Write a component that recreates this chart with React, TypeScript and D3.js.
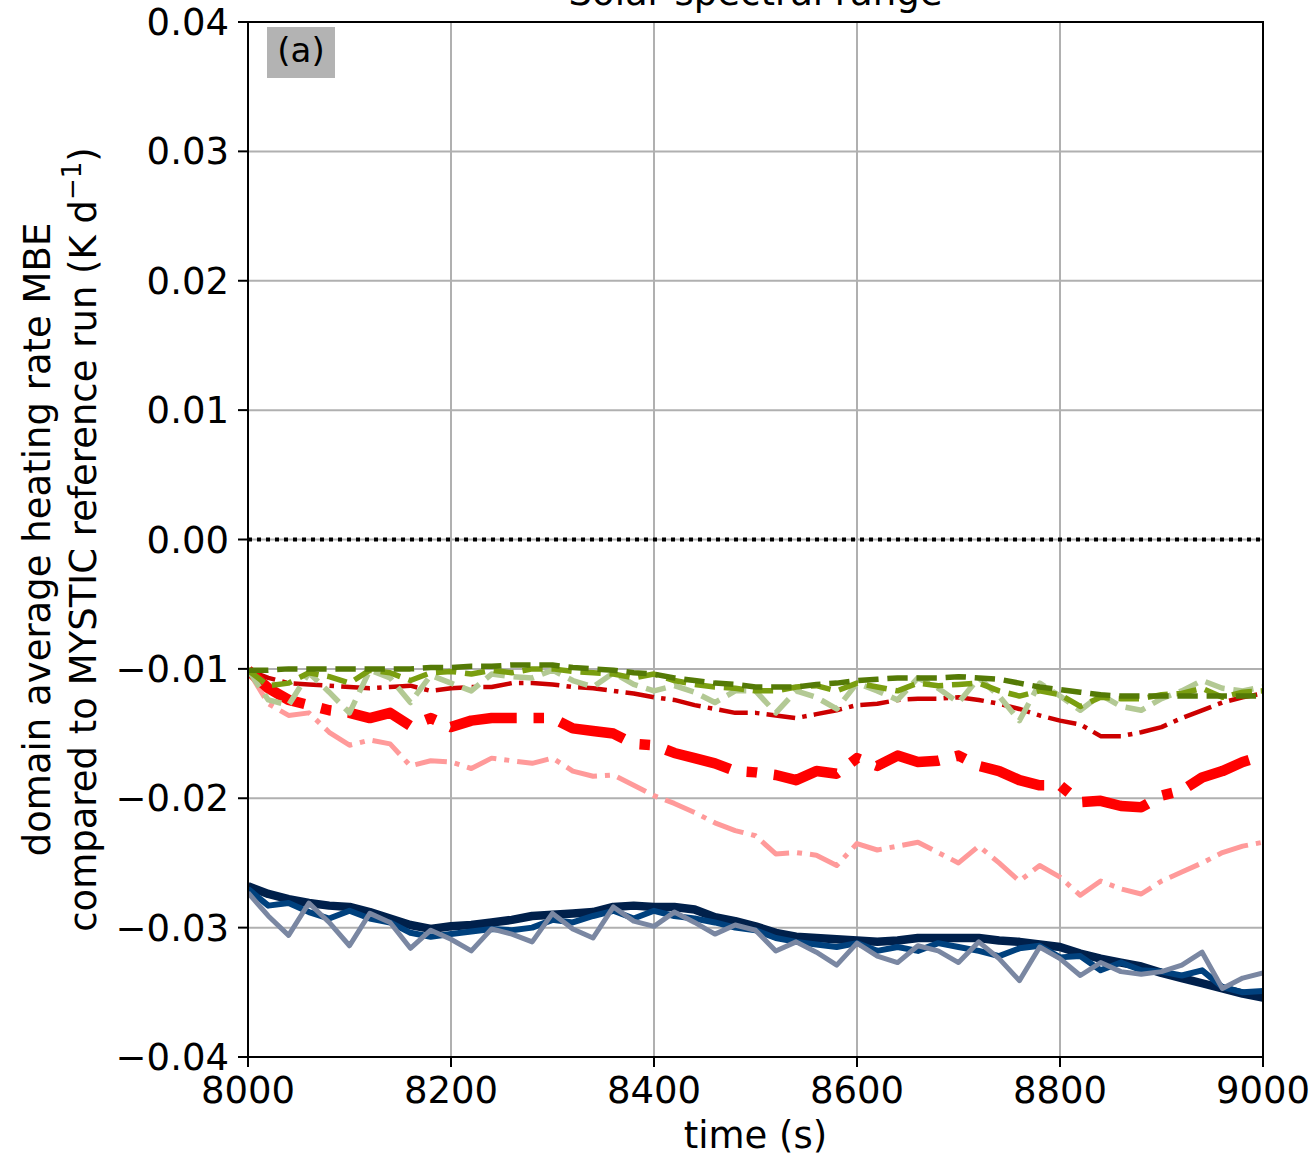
import React from 'react';
import * as d3 from 'd3';

// time axis, one value every 20 s
const times = d3.range(8000, 9001, 20);

const darkGreen = [-0.0101, -0.0101, -0.0100, -0.0100, -0.0100, -0.0100, -0.0100, -0.0100, -0.0100, -0.0099, -0.0099, -0.0098, -0.0098, -0.0097, -0.0097, -0.0097, -0.0099, -0.0100, -0.0101, -0.0103, -0.0104, -0.0107, -0.0109, -0.0111, -0.0112, -0.0114, -0.0114, -0.0114, -0.0112, -0.0111, -0.0109, -0.0108, -0.0107, -0.0107, -0.0107, -0.0106, -0.0107, -0.0108, -0.0111, -0.0114, -0.0116, -0.0118, -0.0120, -0.0121, -0.0121, -0.0121, -0.0121, -0.0121, -0.0121, -0.0121, -0.0121];
const oliveGreen = [-0.0101, -0.0113, -0.0111, -0.0103, -0.0106, -0.0111, -0.0101, -0.0103, -0.0109, -0.0103, -0.0102, -0.0104, -0.0101, -0.0103, -0.0100, -0.0100, -0.0102, -0.0103, -0.0104, -0.0107, -0.0104, -0.0109, -0.0112, -0.0114, -0.0115, -0.0117, -0.0117, -0.0114, -0.0113, -0.0117, -0.0111, -0.0114, -0.0117, -0.0111, -0.0113, -0.0112, -0.0111, -0.0117, -0.0121, -0.0117, -0.0120, -0.0129, -0.0122, -0.0123, -0.0123, -0.0120, -0.0119, -0.0115, -0.0122, -0.0118, -0.0117];
const lightGreen = [-0.0101, -0.0124, -0.0128, -0.0103, -0.0118, -0.0134, -0.0101, -0.0107, -0.0126, -0.0105, -0.0111, -0.0117, -0.0104, -0.0106, -0.0107, -0.0101, -0.0109, -0.0114, -0.0103, -0.0112, -0.0117, -0.0113, -0.0118, -0.0126, -0.0117, -0.0117, -0.0134, -0.0117, -0.0122, -0.0131, -0.0111, -0.0117, -0.0124, -0.0107, -0.0115, -0.0126, -0.0107, -0.0121, -0.0140, -0.0111, -0.0121, -0.0132, -0.0120, -0.0129, -0.0132, -0.0123, -0.0117, -0.0109, -0.0115, -0.0117, -0.0114];
const darkRed = [-0.0101, -0.0107, -0.0111, -0.0112, -0.0113, -0.0114, -0.0115, -0.0114, -0.0113, -0.0117, -0.0115, -0.0114, -0.0114, -0.0111, -0.0111, -0.0112, -0.0114, -0.0115, -0.0117, -0.0119, -0.0122, -0.0124, -0.0128, -0.0131, -0.0134, -0.0134, -0.0136, -0.0138, -0.0135, -0.0132, -0.0128, -0.0127, -0.0124, -0.0123, -0.0123, -0.0122, -0.0124, -0.0127, -0.0131, -0.0136, -0.0140, -0.0143, -0.0152, -0.0152, -0.0149, -0.0145, -0.0138, -0.0132, -0.0126, -0.0122, -0.0119];
const brightRed = [-0.0101, -0.0115, -0.0124, -0.0128, -0.0132, -0.0134, -0.0138, -0.0134, -0.0144, -0.0138, -0.0145, -0.0140, -0.0138, -0.0138, -0.0138, -0.0138, -0.0146, -0.0148, -0.0150, -0.0158, -0.0159, -0.0165, -0.0169, -0.0173, -0.0179, -0.0180, -0.0182, -0.0186, -0.0179, -0.0181, -0.0169, -0.0175, -0.0167, -0.0172, -0.0171, -0.0167, -0.0175, -0.0179, -0.0186, -0.0190, -0.0190, -0.0203, -0.0202, -0.0206, -0.0207, -0.0198, -0.0194, -0.0184, -0.0179, -0.0172, -0.0167];
const pinkRed = [-0.0101, -0.0127, -0.0136, -0.0134, -0.0149, -0.0159, -0.0155, -0.0158, -0.0175, -0.0171, -0.0172, -0.0177, -0.0169, -0.0171, -0.0173, -0.0169, -0.0179, -0.0183, -0.0182, -0.0190, -0.0198, -0.0204, -0.0211, -0.0219, -0.0225, -0.0229, -0.0243, -0.0242, -0.0244, -0.0252, -0.0235, -0.0240, -0.0237, -0.0234, -0.0242, -0.0250, -0.0237, -0.0250, -0.0264, -0.0252, -0.0261, -0.0275, -0.0264, -0.0270, -0.0274, -0.0264, -0.0257, -0.0250, -0.0242, -0.0237, -0.0234];
const navyBlue = [-0.0268, -0.0274, -0.0278, -0.0281, -0.0283, -0.0284, -0.0288, -0.0293, -0.0298, -0.0301, -0.0299, -0.0298, -0.0296, -0.0294, -0.0291, -0.0290, -0.0289, -0.0288, -0.0284, -0.0283, -0.0284, -0.0284, -0.0286, -0.0292, -0.0295, -0.0299, -0.0304, -0.0307, -0.0308, -0.0309, -0.0310, -0.0311, -0.0310, -0.0308, -0.0308, -0.0308, -0.0308, -0.0310, -0.0311, -0.0313, -0.0315, -0.0320, -0.0324, -0.0327, -0.0330, -0.0335, -0.0339, -0.0343, -0.0347, -0.0351, -0.0354];
const midBlue = [-0.0270, -0.0283, -0.0281, -0.0288, -0.0293, -0.0287, -0.0293, -0.0296, -0.0304, -0.0307, -0.0305, -0.0303, -0.0301, -0.0302, -0.0300, -0.0294, -0.0296, -0.0291, -0.0287, -0.0293, -0.0287, -0.0291, -0.0293, -0.0296, -0.0300, -0.0302, -0.0308, -0.0311, -0.0313, -0.0315, -0.0312, -0.0318, -0.0315, -0.0318, -0.0312, -0.0315, -0.0318, -0.0322, -0.0316, -0.0314, -0.0323, -0.0322, -0.0333, -0.0327, -0.0333, -0.0334, -0.0337, -0.0333, -0.0346, -0.0350, -0.0349];
const grayBlue = [-0.0273, -0.0291, -0.0306, -0.0281, -0.0296, -0.0314, -0.0289, -0.0296, -0.0316, -0.0302, -0.0309, -0.0318, -0.0301, -0.0305, -0.0311, -0.0289, -0.0301, -0.0308, -0.0284, -0.0295, -0.0299, -0.0288, -0.0296, -0.0305, -0.0298, -0.0302, -0.0318, -0.0311, -0.0319, -0.0329, -0.0312, -0.0322, -0.0327, -0.0314, -0.0318, -0.0327, -0.0311, -0.0324, -0.0341, -0.0315, -0.0324, -0.0337, -0.0327, -0.0334, -0.0336, -0.0334, -0.0329, -0.0319, -0.0347, -0.0339, -0.0335];

const xTicks = [8000, 8200, 8400, 8600, 8800, 9000];
const yTicks = [-0.04, -0.03, -0.02, -0.01, 0.0, 0.01, 0.02, 0.03, 0.04];

const PLOT = { LEFT: 248, RIGHT: 1263, TOP: 22, BOTTOM: 1057 };
const FONT = 'DejaVu Sans, sans-serif';
const FS = 37;

// dash patterns scaled by line width, like matplotlib
const dashed = (lw: number) => `${3.7 * lw},${1.6 * lw}`;
const dashdot = (lw: number) => `${6.4 * lw},${1.6 * lw},${1 * lw},${1.6 * lw}`;

const seriesList = [
    { values: pinkRed, color: '#ff9a9a', lw: 5, dash: dashdot(5) },
    { values: darkRed, color: '#cc0000', lw: 4.5, dash: dashdot(4.5) },
    { values: brightRed, color: '#ff0000', lw: 10.5, dash: dashdot(10.5) },
    { values: lightGreen, color: '#b3c994', lw: 5.5, dash: dashed(5.5) },
    { values: oliveGreen, color: '#7a9e10', lw: 5.5, dash: dashed(5.5) },
    { values: darkGreen, color: '#547a06', lw: 5.5, dash: dashed(5.5) },
    { values: navyBlue, color: '#00204b', lw: 8.5, dash: undefined },
    { values: midBlue, color: '#00417e', lw: 6, dash: undefined },
    { values: grayBlue, color: '#7a87a2', lw: 5, dash: undefined },
];

const fmtY = (v: number) => {
    const s = Math.abs(v).toFixed(2);
    return v < -1e-9 ? `\u2212${s}` : s;
};

export default function App() {
    const x = d3.scaleLinear().domain([8000, 9000]).range([PLOT.LEFT, PLOT.RIGHT]);
    const y = d3.scaleLinear().domain([-0.04, 0.04]).range([PLOT.BOTTOM, PLOT.TOP]);

    const line = (vals: number[]) =>
        d3.line<number>().x((_, i) => x(times[i])).y(d => y(d))(vals) || '';

    const midX = (PLOT.LEFT + PLOT.RIGHT) / 2;
    const midY = (PLOT.TOP + PLOT.BOTTOM) / 2;

    return (
        <svg width={1313} height={1156} style={{ position: 'absolute', left: 0, top: 0, background: '#fff' }}
            fontFamily={FONT}>
            <defs>
                <clipPath id='plot-clip'>
                    <rect x={PLOT.LEFT} y={PLOT.TOP} width={PLOT.RIGHT - PLOT.LEFT} height={PLOT.BOTTOM - PLOT.TOP} />
                </clipPath>
            </defs>

            {/* title, partly cut off at the top like the original */}
            <text x={midX} y={5} textAnchor='middle' fontSize={FS} fill='#000'>Solar spectral range</text>

            {/* grid */}
            <g stroke='#b0b0b0' strokeWidth={2}>
                {xTicks.map(t => <line key={`gx-${t}`} x1={x(t)} x2={x(t)} y1={PLOT.TOP} y2={PLOT.BOTTOM} />)}
                {yTicks.map(t => <line key={`gy-${t}`} x1={PLOT.LEFT} x2={PLOT.RIGHT} y1={y(t)} y2={y(t)} />)}
            </g>

            {/* zero line */}
            <line x1={PLOT.LEFT} x2={PLOT.RIGHT} y1={y(0)} y2={y(0)} stroke='#000' strokeWidth={4} strokeDasharray='4,5' />

            <g clipPath='url(#plot-clip)' fill='none' strokeLinejoin='round'>
                {seriesList.map((s, i) => (
                    <path key={`s-${i}`} d={line(s.values)} stroke={s.color} strokeWidth={s.lw} strokeDasharray={s.dash} />
                ))}
            </g>

            {/* panel label */}
            <rect x={267} y={27} width={68} height={51} fill='#b3b3b3' />
            <text x={301} y={62} textAnchor='middle' fontSize={34} fill='#000'>(a)</text>

            {/* frame */}
            <rect x={PLOT.LEFT} y={PLOT.TOP} width={PLOT.RIGHT - PLOT.LEFT} height={PLOT.BOTTOM - PLOT.TOP} fill='none' stroke='#000' strokeWidth={2} />

            {/* x axis */}
            {xTicks.map(t => (
                <g key={`xt-${t}`}>
                    <line x1={x(t)} x2={x(t)} y1={PLOT.BOTTOM} y2={PLOT.BOTTOM + 10} stroke='#000' strokeWidth={2} />
                    <text x={x(t)} y={PLOT.BOTTOM + 46} textAnchor='middle' fontSize={FS} fill='#000'>{t}</text>
                </g>
            ))}
            <text x={midX} y={1148} textAnchor='middle' fontSize={FS} fill='#000'>time (s)</text>

            {/* y axis */}
            {yTicks.map(t => (
                <g key={`yt-${t}`}>
                    <line x1={PLOT.LEFT - 10} x2={PLOT.LEFT} y1={y(t)} y2={y(t)} stroke='#000' strokeWidth={2} />
                    <text x={PLOT.LEFT - 19} y={y(t) + 13} textAnchor='end' fontSize={FS} fill='#000'>{fmtY(t)}</text>
                </g>
            ))}
            <g transform={`translate(50, ${midY}) rotate(-90)`}>
                <text x={0} y={0} textAnchor='middle' fontSize={FS} fill='#000'>domain average heating rate MBE</text>
                <text x={0} y={46} textAnchor='middle' fontSize={FS} fill='#000'>
                    compared to MYSTIC reference run (K d<tspan dy={-15} fontSize={26}>{'\u22121'}</tspan><tspan dy={15}>)</tspan>
                </text>
            </g>
        </svg>
    );
}
